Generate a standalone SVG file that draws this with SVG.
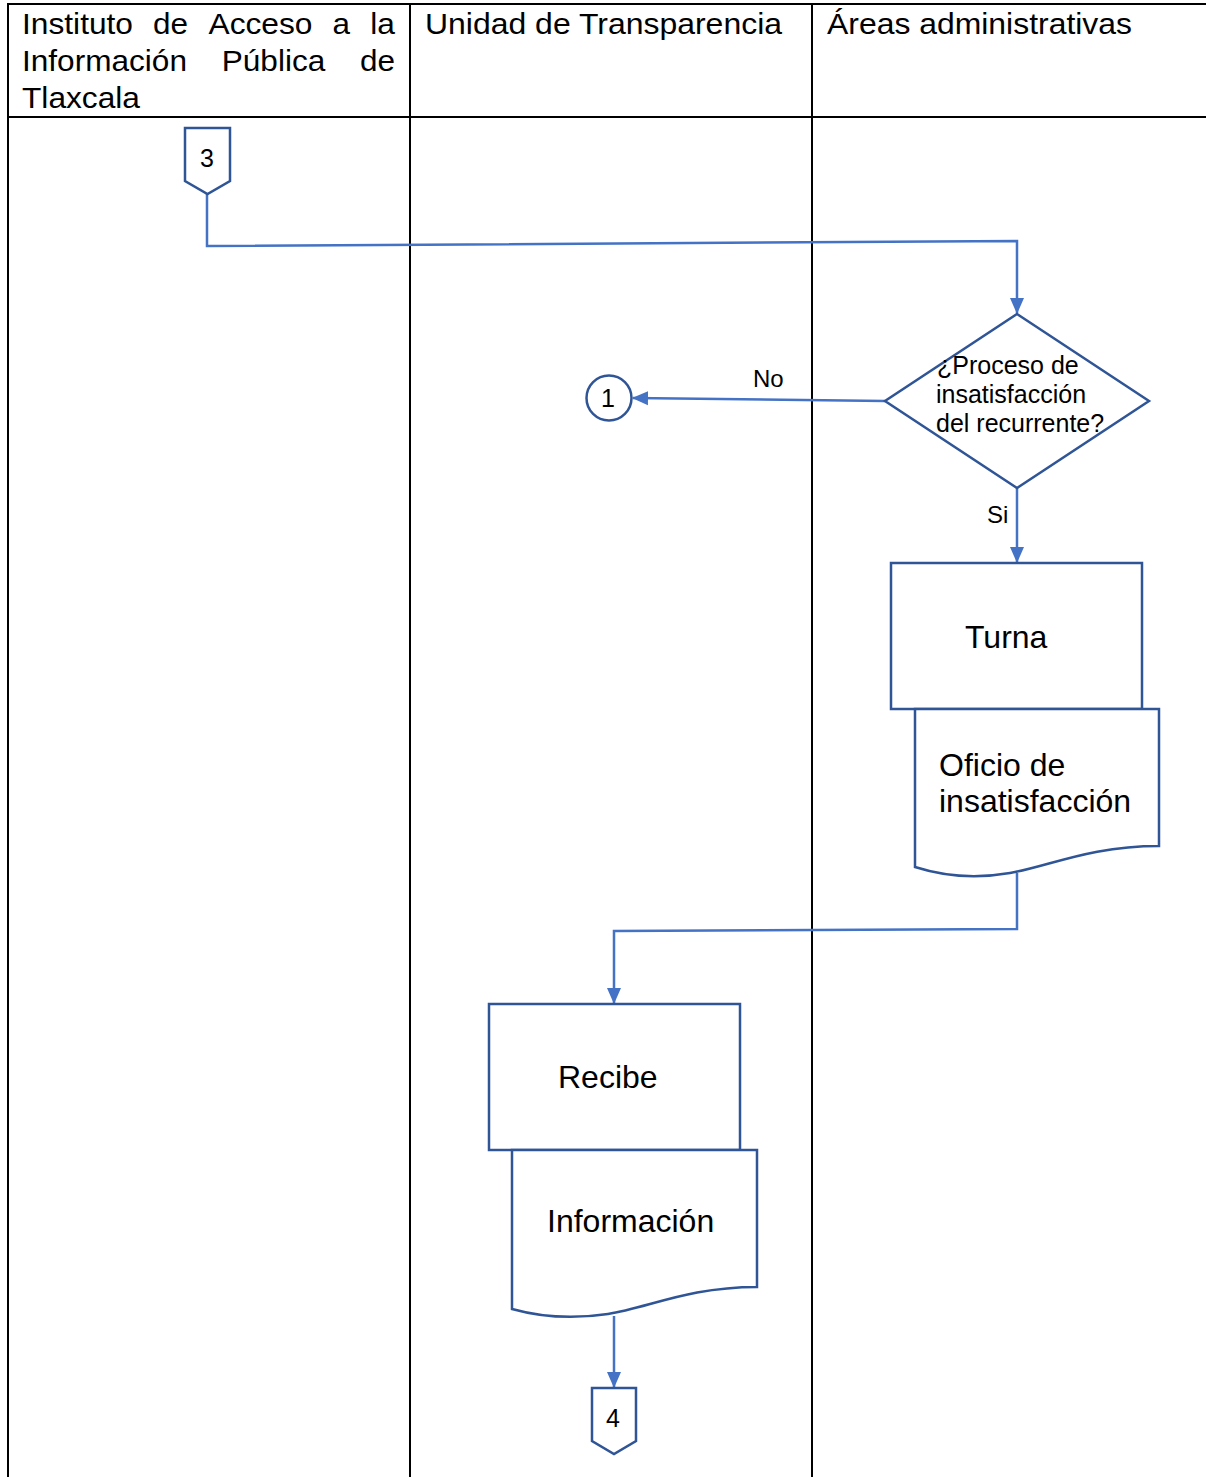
<svg xmlns="http://www.w3.org/2000/svg" width="1206" height="1477" viewBox="0 0 1206 1477">
<style>
text{font-family:"Liberation Sans",Arial,sans-serif;fill:#000}
.hd{font-size:29px}
.nd{font-size:32px}
.sm{font-size:25px}
.lb{font-size:24px}
.grid{stroke:#000;stroke-width:2;fill:none}
.shape{stroke:#2F5597;stroke-width:2.5;fill:#fff}
.conn{stroke:#4472C4;stroke-width:2.5;fill:none}
</style>
<defs>
<marker id="ah" markerUnits="userSpaceOnUse" markerWidth="16" markerHeight="16" viewBox="0 0 16 16" refX="15" refY="8" orient="auto">
<path d="M0,1 L16,8 L0,15 Z" fill="#4472C4"/>
</marker>
</defs>
<rect width="1206" height="1477" fill="#fff"/>
<g id="table">
<path class="grid" d="M8,1477 V4 H1206 M8,117 H1206 M410,4 V1477 M812,4 V1477"/>
<text class="hd" x="22" y="34" textLength="111" lengthAdjust="spacingAndGlyphs">Instituto</text>
<text class="hd" x="153" y="34" textLength="35" lengthAdjust="spacingAndGlyphs">de</text>
<text class="hd" x="208.5" y="34" textLength="104" lengthAdjust="spacingAndGlyphs">Acceso</text>
<text class="hd" x="332.5" y="34" textLength="17.5" lengthAdjust="spacingAndGlyphs">a</text>
<text class="hd" x="370.3" y="34" textLength="24.7" lengthAdjust="spacingAndGlyphs">la</text>
<text class="hd" x="22" y="71" textLength="165" lengthAdjust="spacingAndGlyphs">Información</text>
<text class="hd" x="221.7" y="71" textLength="103.6" lengthAdjust="spacingAndGlyphs">Pública</text>
<text class="hd" x="360" y="71" textLength="35" lengthAdjust="spacingAndGlyphs">de</text>
<text class="hd" x="22" y="108" textLength="118" lengthAdjust="spacingAndGlyphs">Tlaxcala</text>
<text class="hd" x="425" y="34" textLength="357" lengthAdjust="spacingAndGlyphs">Unidad de Transparencia</text>
<text class="hd" x="827" y="34" textLength="305" lengthAdjust="spacingAndGlyphs">Áreas administrativas</text>
</g>
<g id="connectors">
<path class="conn" d="M207,194 V246 L1017,241 V313" marker-end="url(#ah)"/>
<path class="conn" d="M885,401 L633,398" marker-end="url(#ah)"/>
<path class="conn" d="M1017,488 V562" marker-end="url(#ah)"/>
<path class="conn" d="M1017,873 V929 L614,931 V1003" marker-end="url(#ah)"/>
<path class="conn" d="M614,1316 V1387" marker-end="url(#ah)"/>
<text class="lb" x="753" y="387">No</text>
<text class="lb" x="987" y="523">Si</text>
</g>
<g id="off3">
<path class="shape" d="M185,128 H230 V181 L207.5,194 L185,181 Z"/>
<text class="lb" x="207" y="167" text-anchor="middle" style="font-size:25px">3</text>
</g>
<g id="decision">
<path class="shape" d="M1017,314 L1149,401 L1017,488 L885,401 Z"/>
<text class="sm" x="937" y="374">¿Proceso de</text>
<text class="sm" x="936" y="403">insatisfacción</text>
<text class="sm" x="936" y="432">del recurrente?</text>
</g>
<g id="conn1">
<circle class="shape" cx="609" cy="398" r="22.5"/>
<text class="lb" x="608" y="407" text-anchor="middle" style="font-size:25px">1</text>
</g>
<g id="turna">
<rect class="shape" x="891" y="563" width="251" height="146"/>
<text class="nd" x="965" y="648">Turna</text>
</g>
<g id="oficio">
<path class="shape" d="M915,709 H1159 V846 C1090,846 1050,866 1010,873 C970,880 940,875 915,867 Z"/>
<text class="nd" x="939" y="776">Oficio de</text>
<text class="nd" x="939" y="812">insatisfacción</text>
</g>
<g id="recibe">
<rect class="shape" x="489" y="1004" width="251" height="146"/>
<text class="nd" x="558" y="1088">Recibe</text>
</g>
<g id="informacion">
<path class="shape" d="M512,1150 H757 V1287 C688,1287 648,1308 608,1314 C568,1320 537,1316 512,1309 Z"/>
<text class="nd" x="547" y="1232">Información</text>
</g>
<g id="off4">
<path class="shape" d="M592,1388 H636 V1441 L614,1454 L592,1441 Z"/>
<text class="lb" x="613" y="1427" text-anchor="middle" style="font-size:25px">4</text>
</g>
</svg>
